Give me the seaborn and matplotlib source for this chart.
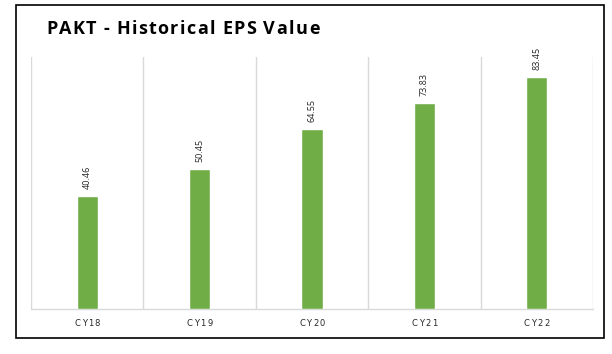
import matplotlib
matplotlib.use("Agg")
import matplotlib.pyplot as plt
import seaborn as sns
import pandas as pd
from matplotlib.patches import Rectangle

categories = ["CY18", "CY19", "CY20", "CY21", "CY22"]
eps_values = [40.46, 50.45, 64.55, 73.83, 83.45]
value_labels = ["40.46", "50.45", "64.55", "73.83", "83.45"]
title = "PAKT - Historical EPS Value"

df = pd.DataFrame({"Year": categories, "EPS": eps_values})

sns.set_theme(style="white")
plt.rcParams['font.family'] = ['Open Sans', 'DejaVu Sans']

W, H = 612, 354
fig = plt.figure(figsize=(W / 100, H / 100), dpi=100)
ax = fig.add_axes([31 / W, 1 - 309 / H, (593 - 31) / W, (309 - 57) / H])

sns.barplot(data=df, x="Year", y="EPS", color="#70AD47", width=0.19, ax=ax,
            saturation=1, zorder=3)

ax.set_ylim(0, 90.5)
ax.set_xlim(-0.5, len(categories) - 0.5)
for b in [i + 0.5 for i in range(-1, len(categories))]:
    ax.axvline(b, color="#D9D9D9", lw=1, zorder=1)

for i, (v, lab) in enumerate(zip(eps_values, value_labels)):
    ax.annotate(lab, (i, v), xytext=(0, 5), textcoords="offset points",
                rotation=90, ha="center", va="bottom", fontsize=6.5, color="#262626")

ax.set_yticks([])
ax.set_xlabel("")
ax.set_ylabel("")
ax.set_xticklabels([])
for s in ["top", "left", "right"]:
    ax.spines[s].set_visible(False)
ax.spines["bottom"].set_color("#D9D9D9")
ax.spines["bottom"].set_linewidth(1)
ax.tick_params(axis="x", length=0)

renderer = fig.canvas.get_renderer()


def spaced_text(x_px, y_px, s, gap_px, ha="left", **kw):
    widths = []
    for c in s:
        t = fig.text(0, 0, c if c != " " else "-", **kw)
        w = t.get_window_extent(renderer).width
        if c == " ":
            w *= 0.75
        widths.append(w)
        t.remove()
    total = sum(widths) + gap_px * (len(s) - 1)
    x = x_px - (total / 2 if ha == "center" else 0)
    for c, w in zip(s, widths):
        if c != " ":
            fig.text(x / W, 1 - y_px / H, c, ha="left", va="center", **kw)
        x += w + gap_px


spaced_text(46, 29, title, 1.4, fontsize=13, fontweight="bold", color="black")

cat_centers_px = [31 + (593 - 31) * (i + 0.5) / len(categories) for i in range(len(categories))]
for cx, cat in zip(cat_centers_px, categories):
    spaced_text(cx, 323, cat, 1.5, ha="center", fontsize=6, color="#262626",
                family=["DejaVu Sans"])

fig.patches.append(Rectangle((16 / W, 1 - 338 / H), (604 - 16) / W, (338 - 5) / H,
                             transform=fig.transFigure, fill=False, edgecolor="black", lw=1.2))

fig.savefig("out.png", dpi=100)
